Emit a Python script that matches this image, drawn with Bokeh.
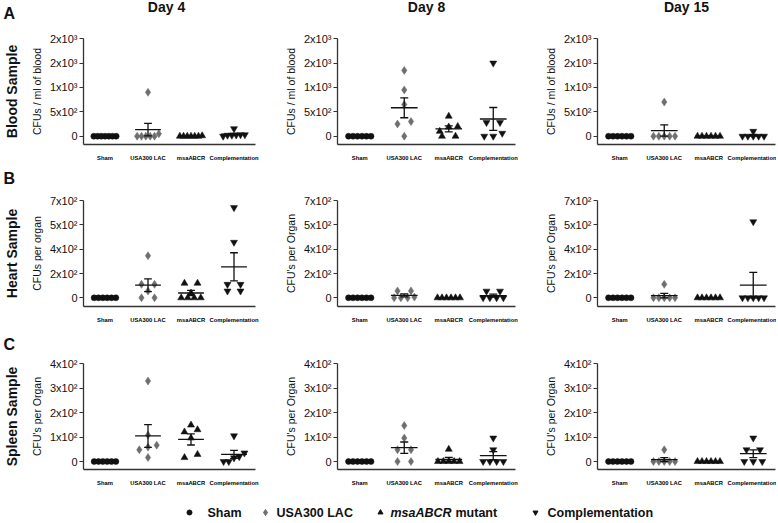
import math
import numpy as np
from bokeh.plotting import figure
from bokeh.models import FixedTicker, Range1d, ColumnDataSource, LinearAxis
from bokeh.layouts import row, column
from bokeh.embed import file_html
from bokeh.resources import INLINE
from bokeh.core.properties import value

# ---------------- data ----------------
groups = ["Sham", "USA300 LAC", "msaABCR", "Complementation"]
legend_labels = ["Sham", "USA300 LAC", "msaABCR", "Complementation"]
days = ["Day 4", "Day 8", "Day 15"]
samples = ["Blood Sample", "Heart Sample", "Spleen Sample"]
panel_letters = ["A", "B", "C"]

blood_ticks = [0, 500, 1000, 1500, 2000]
blood_tick_labels = ["0", "5x10²", "1x10³", "2x10³", "2x10³"]
heart_ticks = [0, 175, 350, 525, 700]
heart_tick_labels = ["0", "2x10²", "4x10²", "5x10²", "7x10²"]
spleen_ticks = [0, 100, 200, 300, 400]
spleen_tick_labels = ["0", "1x10²", "2x10²", "3x10²", "4x10²"]

blood_ylabels = ["CFUs / ml of blood", "CFUs / ml of blood", "CFUs / ml of blood"]
heart_ylabels = ["CFUs per organ", "CFU's per Organ", "CFU's per Organ"]
spleen_ylabels = ["CFU's per Organ", "CFU's per Organ", "CFU's per Organ"]

# Blood (CFUs / ml)
blood_d4_sham = [0, 0, 0, 0, 0, 0, 0]
blood_d4_usa = [900, 50, 0, 0, 0, 0, 0]
blood_d4_msa = [10, 0, 0, 0, 0, 0, 0]
blood_d4_comp = [155, 30, 30, 25, 20, 20, 0]
blood_d8_sham = [0, 0, 0, 0, 0, 0]
blood_d8_usa = [1350, 950, 650, 300, 250, 0]
blood_d8_msa = [410, 200, 190, 100, 0, 0]
blood_d8_comp = [1500, 280, 280, 60, 0, 0]
blood_d15_sham = [0, 0, 0, 0, 0, 0]
blood_d15_usa = [700, 0, 0, 0, 0, 0]
blood_d15_msa = [0, 0, 0, 0, 0, 0]
blood_d15_comp = [100, 0, 0, 0, 0, 0]

# Heart (CFUs per organ)
heart_d4_sham = [0, 0, 0, 0, 0, 0]
heart_d4_usa = [303, 97, 97, 49, 0, 0]
heart_d4_msa = [105, 105, 34, 0, 0, 0, 0]
heart_d4_comp = [650, 400, 97, 97, 49, 49]
heart_d8_sham = [0, 0, 0, 0, 0, 0]
heart_d8_usa = [50, 50, 5, 0, 0, 0]
heart_d8_msa = [0, 0, 0, 0, 0, 0]
heart_d8_comp = [48, 48, 0, 0, 0, 0]
heart_d15_sham = [0, 0, 0, 0, 0, 0]
heart_d15_usa = [97, 0, 0, 0, 0, 0]
heart_d15_msa = [0, 0, 0, 0, 0, 0]
heart_d15_comp = [548, 0, 0, 0, 0, 0]

# Spleen (CFU's per organ)
spleen_d4_sham = [0, 0, 0, 0, 0, 0]
spleen_d4_usa = [329, 108, 67, 59, 48, 16]
spleen_d4_msa = [149, 130, 121, 96, 29, 16]
spleen_d4_comp = [105, 35, 20, 15, 0, 0]
spleen_d8_sham = [0, 0, 0, 0, 0, 0]
spleen_d8_usa = [147, 96, 48, 48, 0, 0]
spleen_d8_msa = [50, 0, 0, 0, 0, 0]
spleen_d8_comp = [96, 48, 0, 0, 0, 0]
spleen_d15_sham = [0, 0, 0, 0, 0, 0]
spleen_d15_usa = [48, 0, 0, 0, 0, 0]
spleen_d15_msa = [0, 0, 0, 0, 0, 0]
spleen_d15_comp = [96, 48, 48, 0, 0, 0]

panels = [
    [[blood_d4_sham, blood_d4_usa, blood_d4_msa, blood_d4_comp],
     [blood_d8_sham, blood_d8_usa, blood_d8_msa, blood_d8_comp],
     [blood_d15_sham, blood_d15_usa, blood_d15_msa, blood_d15_comp]],
    [[heart_d4_sham, heart_d4_usa, heart_d4_msa, heart_d4_comp],
     [heart_d8_sham, heart_d8_usa, heart_d8_msa, heart_d8_comp],
     [heart_d15_sham, heart_d15_usa, heart_d15_msa, heart_d15_comp]],
    [[spleen_d4_sham, spleen_d4_usa, spleen_d4_msa, spleen_d4_comp],
     [spleen_d8_sham, spleen_d8_usa, spleen_d8_msa, spleen_d8_comp],
     [spleen_d15_sham, spleen_d15_usa, spleen_d15_msa, spleen_d15_comp]],
]
row_ticks = [blood_ticks, heart_ticks, spleen_ticks]
row_tick_labels = [blood_tick_labels, heart_tick_labels, spleen_tick_labels]
row_ylabels = [blood_ylabels, heart_ylabels, spleen_ylabels]

# ---------------- styling / layout ----------------
FONT = "Liberation Sans"
markers = ["circle", "diamond", "triangle", "inverted_triangle"]
marker_sizes = [6.0, 8.0, 7.0, 7.0]
marker_colors = ["#111111", "#6e6e6e", "#111111", "#111111"]

TOTAL_W = 776
COL_FIG_W = [260, 260, 256]
BORDER_L = 77
FRAME_W = 178
FRAME_H = 106
TOP_H = 24                         # strip with letter A + day titles
ROW_H = [146, 146, 143]
BORDER_T = [14, 14, 11]
GAP_H = [16, 20]                   # strips holding letters B and C
LETTER_Y = [11.5, 7.7, 8.0]        # letter centres, from the bottom of their strip
BOTTOM_PX = [8.3, 8.7, 8.0]        # gap between zero and x-axis, px
LEG_H = 26


def swarm_offsets(vals, px_y, px_x, gap_px=4.5, total_px=27.0, max_step_px=16.0):
    vals = np.asarray(vals, dtype=float)
    order = np.argsort(vals, kind="stable")
    offs = np.zeros(len(vals))
    rows_, cur = [], [order[0]]
    for i in order[1:]:
        if (vals[i] - vals[cur[-1]]) * px_y < gap_px:
            cur.append(i)
        else:
            rows_.append(cur)
            cur = [i]
    rows_.append(cur)
    for rw in rows_:
        k = len(rw)
        step = min(max_step_px, total_px / k)
        for j, i in enumerate(rw):
            offs[i] = (j - (k - 1) / 2.0) * step / px_x
    return offs


def blank_fig(w, h):
    f = figure(width=w, height=h, x_range=Range1d(0, w), y_range=Range1d(0, h),
               x_axis_type=None, y_axis_type=None,
               output_backend="svg", toolbar_location=None,
               min_border_left=0, min_border_right=0, min_border_top=0, min_border_bottom=0)
    f.xgrid.visible = False
    f.ygrid.visible = False
    f.outline_line_color = None
    f.background_fill_color = "white"
    f.border_fill_color = "white"
    return f


def make_panel(r, c):
    ticks = row_ticks[r]
    top = ticks[-1]
    span_px = FRAME_H - BOTTOM_PX[r]
    y_start = -BOTTOM_PX[r] / span_px * top
    y_end = top * 1.002
    px_y = FRAME_H / (y_end - y_start)
    px_x = FRAME_W / 4.0

    p = figure(width=COL_FIG_W[c], height=ROW_H[r],
               x_range=Range1d(-0.5, 3.5), y_range=Range1d(y_start, y_end),
               output_backend="svg", toolbar_location=None,
               min_border_left=BORDER_L,
               min_border_right=COL_FIG_W[c] - BORDER_L - FRAME_W,
               min_border_top=BORDER_T[r],
               min_border_bottom=ROW_H[r] - BORDER_T[r] - FRAME_H)
    p.outline_line_color = None
    p.xgrid.visible = False
    p.ygrid.visible = False
    p.background_fill_color = "white"
    p.border_fill_color = "white"

    p.xaxis.ticker = FixedTicker(ticks=[0, 1, 2, 3])
    p.xaxis.major_label_overrides = {i: g for i, g in enumerate(groups)}
    p.xaxis.major_label_text_font = FONT
    p.xaxis.major_label_text_font_size = "5.8px"
    p.xaxis.major_label_text_font_style = "bold"
    p.xaxis.major_label_text_color = "#000000"
    p.xaxis.major_tick_line_color = None
    p.xaxis.minor_tick_line_color = None
    p.xaxis.major_label_standoff = 4
    p.xaxis.axis_line_width = 1.3
    p.xaxis.axis_line_color = "#333333"

    p.yaxis.ticker = FixedTicker(ticks=ticks)
    p.yaxis.major_label_overrides = {t: l for t, l in zip(ticks, row_tick_labels[r])}
    p.yaxis.major_label_text_font = FONT
    p.yaxis.major_label_text_font_size = "11px"
    p.yaxis.major_label_text_color = "#111111"
    p.yaxis.major_tick_out = 4
    p.yaxis.major_tick_in = 0
    p.yaxis.major_tick_line_width = 1.2
    p.yaxis.major_tick_line_color = "#333333"
    p.yaxis.minor_tick_line_color = None
    p.yaxis.major_label_standoff = 2
    p.yaxis.axis_line_width = 1.3
    p.yaxis.axis_line_color = "#333333"
    p.yaxis.axis_label = row_ylabels[r][c]
    p.yaxis.axis_label_text_font = FONT
    p.yaxis.axis_label_text_font_size = "10.5px"
    p.yaxis.axis_label_text_font_style = "normal"
    p.yaxis.axis_label_text_color = "#111111"
    p.yaxis.axis_label_standoff = 4

    if c == 0:
        hdr = LinearAxis(ticker=FixedTicker(ticks=[]), axis_label=samples[r],
                         axis_label_text_font=FONT, axis_label_text_font_size="14px",
                         axis_label_text_font_style="bold", axis_label_text_color="#111111",
                         axis_label_standoff=8, axis_line_color=None,
                         major_tick_line_color=None, minor_tick_line_color=None,
                         major_tick_out=0, major_tick_in=0, major_label_standoff=0,
                         major_label_text_font_size="1px")
        p.add_layout(hdr, "left")

    for g, vals in enumerate(panels[r][c]):
        offs = swarm_offsets(vals, px_y, px_x)
        src = ColumnDataSource(dict(x=g + offs, y=vals))
        p.scatter("x", "y", source=src, marker=markers[g], size=marker_sizes[g],
                  fill_color=marker_colors[g], line_color=marker_colors[g], line_width=0.5)

    for g, vals in enumerate(panels[r][c]):
        v = np.asarray(vals, dtype=float)
        m = v.mean()
        sem = v.std(ddof=1) / math.sqrt(len(v))
        eb = ColumnDataSource(dict(
            x0=[g - 0.30, g, g - 0.09, g - 0.09],
            x1=[g + 0.30, g, g + 0.09, g + 0.09],
            y0=[m, m - sem, m + sem, m - sem],
            y1=[m, m + sem, m + sem, m - sem]))
        p.segment("x0", "y0", "x1", "y1", source=eb, line_color="#111111", line_width=1.3)
    return p


# ---------------- top strip: panel letter A + day titles ----------------
top = blank_fig(TOTAL_W, TOP_H)
day_centers = [BORDER_L + FRAME_W / 2,
               COL_FIG_W[0] + BORDER_L + FRAME_W / 2,
               COL_FIG_W[0] + COL_FIG_W[1] + BORDER_L + FRAME_W / 2]
top.text(x=day_centers, y=[17.3] * 3, text=days, text_font=value(FONT), text_font_size="14px",
         text_font_style="bold", text_align="center", text_baseline="middle",
         text_color="#111111")
top.text(x=[3], y=[LETTER_Y[0]], text=[panel_letters[0]], text_font=value(FONT),
         text_font_size="16px", text_font_style="bold", text_align="left",
         text_baseline="middle", text_color="#111111")

# ---------------- rows with letter strips between them ----------------
items = [top]
for r in range(3):
    if r > 0:
        gap = blank_fig(TOTAL_W, GAP_H[r - 1])
        gap.text(x=[3], y=[LETTER_Y[r]], text=[panel_letters[r]], text_font=value(FONT),
                 text_font_size="16px", text_font_style="bold", text_align="left",
                 text_baseline="middle", text_color="#111111")
        items.append(gap)
    items.append(row(*[make_panel(r, c) for c in range(3)], spacing=0))

# ---------------- legend strip ----------------
leg = blank_fig(TOTAL_W, LEG_H)
leg_marker_x = [189, 265, 380, 535]
leg_text_x = [207, 276, 390, 547]
leg_y = 9
leg_sizes = [5, 6, 5, 5]
for g in range(4):
    leg.scatter(x=[leg_marker_x[g]], y=[leg_y], marker=markers[g], size=leg_sizes[g],
                fill_color=marker_colors[g], line_color=marker_colors[g])
for g in range(4):
    style = "bold italic" if g == 2 else "bold"
    leg.text(x=[leg_text_x[g]], y=[leg_y], text=[legend_labels[g]], text_font=value(FONT),
             text_font_size="12.5px", text_font_style=style, text_baseline="middle",
             text_align="left", text_color="#111111")
leg.text(x=[leg_text_x[2] + 65], y=[leg_y], text=["mutant"], text_font=value(FONT),
         text_font_size="12.5px", text_font_style="bold", text_baseline="middle",
         text_align="left", text_color="#111111")
items.append(leg)

layout = column(*items, spacing=0)
open("out.html", "w").write(file_html(layout, INLINE))
